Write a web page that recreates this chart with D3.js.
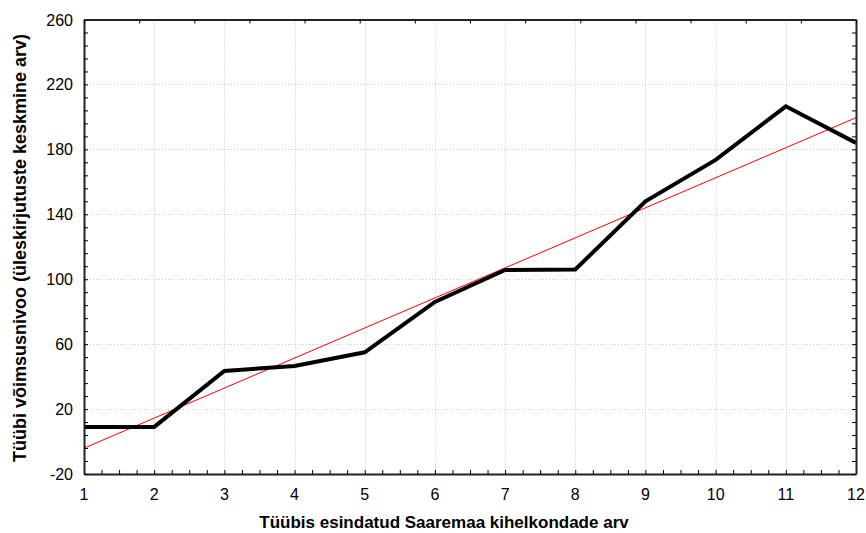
<!DOCTYPE html>
<html><head><meta charset="utf-8">
<script src="https://cdn.jsdelivr.net/npm/d3@7"></script>
<style>body{margin:0;background:#fff}svg{display:block}</style>
</head><body>
<svg id="c" width="866" height="533"></svg>
<script>
const xValues = [1,2,3,4,5,6,7,8,9,10,11,12];
const yValues = [9,9,43.5,46.5,55,86,105.7,106,148,173.5,206.5,184];
const yTicks = [-20,20,60,100,140,180,220,260];
const xTicks = [1,2,3,4,5,6,7,8,9,10,11,12];
const xLabel = "Tüübis esindatud Saaremaa kihelkondade arv";
const yLabel = "Tüübi võimsusnivoo (üleskirjutuste keskmine arv)";

const W=866,H=533, L=84, R=856, T=19.5, B=474;
const svg=d3.select("#c");
const x=d3.scaleLinear().domain([1,12]).range([L,R]);
const y=d3.scaleLinear().domain([-20,260]).range([B,T]);
const font="'Liberation Sans', Arial, sans-serif";

// grid
const g=svg.append("g");
g.selectAll(".gx").data(xTicks.slice(1,-1)).join("line")
 .attr("x1",d=>Math.round(x(d))+0.5).attr("x2",d=>Math.round(x(d))+0.5).attr("y1",T).attr("y2",B)
 .attr("stroke","#c8c8c8").attr("stroke-dasharray","1,2");
g.selectAll(".gy").data(yTicks.slice(1,-1)).join("line")
 .attr("y1",d=>Math.round(y(d))+0.5).attr("y2",d=>Math.round(y(d))+0.5).attr("x1",L).attr("x2",R)
 .attr("stroke","#c8c8c8").attr("stroke-dasharray","1,2");

// regression line (least squares from data)
const mx=d3.mean(xValues), my=d3.mean(yValues);
const sxy=d3.sum(xValues.map((v,i)=>(v-mx)*(yValues[i]-my)));
const sxx=d3.sum(xValues.map(v=>(v-mx)*(v-mx)));
const slope=sxy/sxx, icpt=my-slope*mx;
svg.append("line").attr("x1",x(1)).attr("x2",x(12)).attr("y1",y(icpt+slope)).attr("y2",y(icpt+slope*12))
 .attr("stroke","#ff0000").attr("stroke-width",1);

// data line
svg.append("path").datum(xValues.map((v,i)=>[v,yValues[i]]))
 .attr("d",d3.line().x(d=>x(d[0])).y(d=>y(d[1])))
 .attr("fill","none").attr("stroke","#000").attr("stroke-width",4).attr("stroke-linejoin","miter");

// axes
const axB=d3.axisBottom(x).tickValues(d3.range(1,12.01,0.25)).tickSizeInner(-4).tickSizeOuter(0).tickFormat("");
const axL=d3.axisLeft(y).tickValues(d3.range(-20,260.1,8)).tickSizeInner(-4).tickSizeOuter(0).tickFormat("");
const axR=d3.axisRight(y).tickValues(d3.range(-20,260.1,8)).tickSizeInner(-4).tickSizeOuter(0).tickFormat("");
const xTop=d3.scaleLinear().domain([0,14]).range([L,R]);
const axT=d3.axisTop(xTop).tickValues(d3.range(0,15)).tickSizeInner(-4).tickSizeOuter(0).tickFormat("");
[[axB,`translate(0,${B})`],[axL,`translate(${L},0)`],[axR,`translate(${R},0)`],[axT,`translate(0,${T})`]].forEach(([a,t])=>{
  const ga=svg.append("g").attr("transform",t).call(a);
  ga.selectAll(".tick line").attr("stroke","#000");
  ga.select(".domain").attr("stroke","#222").attr("stroke-width",2);
});

// tick labels
svg.selectAll(".xl").data(xTicks).join("text")
 .attr("x",d=>x(d)).attr("y",500).attr("text-anchor","middle")
 .attr("font-family",font).attr("font-size",16).attr("fill","#000").text(d=>d);
svg.selectAll(".yl").data(yTicks).join("text")
 .attr("x",73).attr("y",d=>y(d)+6).attr("text-anchor","end")
 .attr("font-family",font).attr("font-size",16).attr("fill","#000").text(d=>d);

// axis titles
svg.append("text").attr("x",444).attr("y",528).attr("text-anchor","middle")
 .attr("font-family",font).attr("font-size",17).attr("font-weight","bold").text(xLabel);
svg.append("text").attr("transform","translate(26,248) rotate(-90)").attr("text-anchor","middle")
 .attr("font-family",font).attr("font-size",18).attr("font-weight","bold").text(yLabel);
</script>
</body></html>
